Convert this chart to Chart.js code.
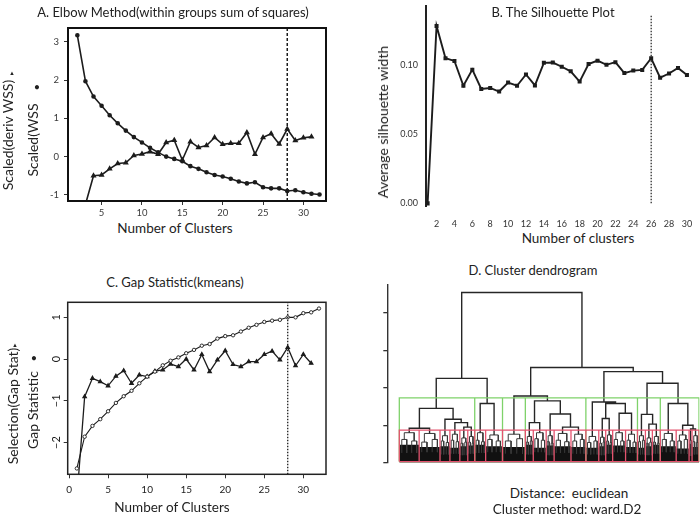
<!DOCTYPE html>
<html>
<head>
<meta charset="utf-8">
<title>Cluster number selection</title>
<script src="https://cdn.jsdelivr.net/npm/chart.js@4.4.1/dist/chart.umd.min.js"></script>
<style>
  html, body { margin: 0; padding: 0; background: #fff; }
  #fig { position: relative; width: 700px; height: 516px; overflow: hidden; font-family: Lato, 'Open Sans', sans-serif; color: #222; }
  #fig canvas { position: absolute; }
  .lab { position: absolute; white-space: nowrap; font-size: 13.5px; line-height: 1; transform: translate(-50%, -50%); }
  .ttl { font-size: 13px; }
  .vlab { position: absolute; white-space: nowrap; font-size: 14px; line-height: 14px; transform: translate(-50%, -50%) rotate(-90deg); }
  .mk { position: absolute; line-height: 1; transform: translate(-50%, -50%); }
</style>
</head>
<body>
<div id="fig">
  <canvas id="elbowChart" width="350" height="220" style="left:0;top:0"></canvas>
  <canvas id="silChart" width="350" height="230" style="left:350px;top:0"></canvas>
  <canvas id="gapChart" width="350" height="210" style="left:0;top:290px"></canvas>
  <canvas id="dendroChart" width="350" height="190" style="left:350px;top:280px"></canvas>

  <div class="lab ttl" style="left:173px;top:12px">A. Elbow Method(within groups sum of squares)</div>
  <div class="vlab" style="left:8px;top:135px">Scaled(deriv WSS)</div>
  <div class="mk" style="left:12px;top:73px;font-size:6px">&#9650;</div>
  <div class="vlab" style="left:33px;top:140px">Scaled(WSS</div>
  <div class="mk" style="left:37px;top:86px;font-size:11px">&#8226;</div>
  <div class="lab" style="left:175px;top:229px">Number of Clusters</div>

  <div class="lab ttl" style="left:553px;top:12px">B. The Silhouette Plot</div>
  <div class="vlab" style="left:383px;top:122px">Average silhouette width</div>
  <div class="lab" style="left:578px;top:239px">Number of clusters</div>

  <div class="lab ttl" style="left:175px;top:282px">C. Gap Statistic(kmeans)</div>
  <div class="vlab" style="left:13px;top:406px">Selection(Gap Stat)</div>
  <div class="mk" style="left:15px;top:345px;font-size:6px">&#9650;</div>
  <div class="vlab" style="left:33px;top:410px">Gap Statistic</div>
  <div class="mk" style="left:34px;top:357px;font-size:11px">&#8226;</div>
  <div class="lab" style="left:172px;top:508px">Number of Clusters</div>

  <div class="lab ttl" style="left:533px;top:270px">D. Cluster dendrogram</div>
  <div class="lab" style="left:569px;top:494px">Distance:&nbsp; euclidean</div>
  <div class="lab" style="left:567px;top:510px">Cluster method: ward.D2</div>
</div>

<script>
// ---- A. elbow method ----
const kElbow = [2, 3, 4, 5, 6, 7, 8, 9, 10, 11, 12, 13, 14, 15, 16, 17, 18, 19, 20, 21, 22, 23, 24, 25, 26, 27, 28, 29, 30, 31, 32];
const wssScaled = [3.17, 1.97, 1.57, 1.33, 1.08, 0.87, 0.68, 0.51, 0.37, 0.23, 0.11, 0.00, -0.06, -0.12, -0.25, -0.32,
  -0.41, -0.48, -0.52, -0.58, -0.65, -0.70, -0.67, -0.80, -0.83, -0.83, -0.90, -0.88, -0.93, -0.97, -0.99];
const kDeriv = [3, 4, 5, 6, 7, 8, 9, 10, 11, 12, 13, 14, 15, 16, 17, 18, 19, 20, 21, 22, 23, 24, 25, 26, 27, 28, 29, 30, 31];
const derivScaled = [-1.25, -0.50, -0.48, -0.32, -0.18, -0.16, 0.03, 0.07, 0.13, 0.06, 0.37, 0.43, -0.09, 0.39, 0.24,
  0.29, 0.50, 0.32, 0.35, 0.35, 0.63, 0.06, 0.50, 0.60, 0.33, 0.72, 0.42, 0.49, 0.52];
const elbowPick = 28;
const elbowTicksX = [5, 10, 15, 20, 25, 30];
const elbowTicksY = [-1, 0, 1, 2, 3];

// ---- B. silhouette ----
const kSil = [1, 2, 3, 4, 5, 6, 7, 8, 9, 10, 11, 12, 13, 14, 15, 16, 17, 18, 19, 20, 21, 22, 23, 24, 25, 26, 27, 28, 29, 30];
const silWidth = [0, 0.128, 0.1047, 0.1028, 0.0849, 0.0965, 0.0826, 0.0833, 0.0807, 0.0872, 0.0849, 0.0930, 0.0851, 0.1014,
  0.1016, 0.0986, 0.0953, 0.0879, 0.1005, 0.1030, 0.1000, 0.1019, 0.0940, 0.0958, 0.0963, 0.1047, 0.0907, 0.0937, 0.0977, 0.0926];
const silPick = 26;
const silTicksX = [2, 4, 6, 8, 10, 12, 14, 16, 18, 20, 22, 24, 26, 28, 30];
const silTicksY = [0, 0.05, 0.10];

// ---- C. gap statistic ----
const kGap = [1, 2, 3, 4, 5, 6, 7, 8, 9, 10, 11, 12, 13, 14, 15, 16, 17, 18, 19, 20, 21, 22, 23, 24, 25, 26, 27, 28, 29, 30, 31, 32];
const gapStat = [-2.62, -1.86, -1.60, -1.44, -1.25, -1.05, -0.89, -0.76, -0.58, -0.42, -0.30, -0.15, -0.04, 0.04, 0.14, 0.22,
  0.32, 0.36, 0.49, 0.55, 0.57, 0.66, 0.75, 0.82, 0.89, 0.92, 0.94, 1.00, 1.00, 1.10, 1.12, 1.21];
const kSel = [1, 2, 3, 4, 5, 6, 7, 8, 9, 10, 11, 12, 13, 14, 15, 16, 17, 18, 19, 20, 21, 22, 23, 24, 25, 26, 27, 28, 29, 30, 31];
const gapSel = [-3.35, -0.90, -0.46, -0.54, -0.64, -0.41, -0.28, -0.58, -0.38, -0.42, -0.29, -0.26, -0.12, -0.18, 0.00, -0.26,
  0.11, -0.30, -0.02, 0.20, -0.13, -0.18, -0.06, -0.06, 0.11, 0.19, -0.02, 0.28, -0.16, 0.11, -0.10];
const gapPick = 28;
const gapTicksX = [0, 5, 10, 15, 20, 25, 30];
const gapTicksY = [-2, -1, 0, 1];

// ---- D. dendrogram (ward.D2), cut into red clusters and green groups ----
const redSizes = [20, 21, 10, 10, 8, 7, 11, 17, 23, 8, 13, 8, 17, 15, 13, 7, 7, 13, 12, 8, 7, 8, 16, 13, 3, 7];
const greenCounts = [6, 2, 1, 5, 5, 3, 4];
// merges above the red cut, hclust style: negative = red cluster, positive = earlier merge row
const mergeA = [-1, -5, -4, -3, 1, -7, 5, -10, -13, -12, 8, -9, -16, -18, 13, -15, -21, -20, -25, -24, -23, 18, 16, 12, 7];
const mergeB = [-2, -6, 2, 3, 4, -8, 6, -11, -14, 9, 10, 11, -17, -19, 14, 15, -22, 17, -26, 19, 20, 21, 22, 23, 24];
const mergeH = [0.92, 0.95, 1.07, 1.16, 1.45, 1.58, 2.25, 1.07, 0.95, 1.30, 1.65, 1.78, 1.18, 1.32, 1.58, 1.62, 1.03, 1.29,
  0.90, 1.00, 1.58, 2.12, 2.43, 2.54, 4.54];
// inside each red cluster: top merge, its two sub merges, and top of the dense leaf mass
const redTop = [0.80, 0.78, 0.72, 0.76, 0.66, 0.70, 0.80, 0.74, 0.76, 0.70, 0.80, 0.72, 0.78, 0.76, 0.70, 0.68, 0.74, 0.80,
  0.76, 0.72, 0.66, 0.70, 0.78, 0.74, 0.60, 0.72];
const subL = [0.62, 0.55, 0.58, 0.60, 0.52, 0.55, 0.60, 0.62, 0.58, 0.55, 0.64, 0.56, 0.60, 0.58, 0.54, 0.52, 0.58, 0.62,
  0.60, 0.56, 0.52, 0.55, 0.62, 0.58, 0.50, 0.56];
const subR = [0.58, 0.62, 0.54, 0.56, 0.55, 0.52, 0.56, 0.58, 0.64, 0.58, 0.60, 0.52, 0.56, 0.62, 0.58, 0.55, 0.54, 0.58,
  0.55, 0.60, 0.55, 0.52, 0.58, 0.62, 0.48, 0.54];
const massTop = [0.46, 0.48, 0.42, 0.44, 0.40, 0.44, 0.46, 0.48, 0.44, 0.42, 0.48, 0.40, 0.46, 0.44, 0.42, 0.40, 0.44, 0.48,
  0.46, 0.42, 0.40, 0.44, 0.48, 0.44, 0.38, 0.42];
const redCut = 0.87;
const greenCut = 1.73;
const boxBase = 0.03;
const dendroTicksY = [0, 1, 2, 3, 4];

// ===== helpers =====
Chart.defaults.font.family = 'Lato, sans-serif';
Chart.defaults.color = '#333';

const INK = '#1c1c1c';

function xy(xs, ys) {
  return ys.map((y, i) => ({ x: xs[i], y: y }));
}

function fixTicks(values) {
  return function(scale) { scale.ticks = values.map(v => ({ value: v })); };
}

function fixSize(prop, size) {
  return function(scale) {
    scale[prop] = size;
    scale.paddingTop = 0; scale.paddingBottom = 0;
    scale.paddingLeft = 0; scale.paddingRight = 0;
  };
}

// box around the plot region, like R's bty="o"
const framePlugin = {
  id: 'frame',
  afterDatasetsDraw(chart, args, opts) {
    if (!opts.width) return;
    const a = chart.chartArea;
    const ctx = chart.ctx;
    ctx.save();
    ctx.strokeStyle = opts.color || INK;
    ctx.lineWidth = opts.width;
    ctx.strokeRect(a.left, a.top, a.right - a.left, a.bottom - a.top);
    ctx.restore();
  }
};

function baseOptions(padding) {
  return {
    responsive: false,
    animation: false,
    devicePixelRatio: 1,
    layout: { padding: padding },
    plugins: { legend: { display: false }, tooltip: { enabled: false } },
    elements: { line: { tension: 0 } }
  };
}

function series(points, extra) {
  return Object.assign({
    data: points,
    borderColor: INK,
    backgroundColor: INK,
    pointBackgroundColor: INK,
    pointBorderColor: INK,
    borderWidth: 1.5,
    pointRadius: 0,
    fill: false
  }, extra);
}

// ===== A. Elbow =====
(function() {
  const yMin = -1.16, yMax = 3.36;
  const opts = baseOptions({ left: 0, right: 24, top: 28, bottom: 0 });
  opts.plugins.frame = { width: 2, color: '#111' };
  opts.scales = {
    x: {
      type: 'linear', min: 0.84, max: 32.8,
      afterBuildTicks: fixTicks(elbowTicksX), afterFit: fixSize('height', 19),
      border: { display: false },
      grid: { drawOnChartArea: false, drawTicks: true, tickLength: 4, color: '#333' },
      ticks: { font: { size: 9.5 }, color: '#3a3a3a', padding: 2, maxRotation: 0, autoSkip: false }
    },
    y: {
      type: 'linear', min: yMin, max: yMax,
      afterBuildTicks: fixTicks(elbowTicksY), afterFit: fixSize('width', 68),
      border: { display: false },
      grid: { drawOnChartArea: false, drawTicks: true, tickLength: 4, color: '#333' },
      ticks: { font: { size: 9.5 }, color: '#3a3a3a', padding: 5, callback: v => String(v) }
    }
  };
  new Chart(document.getElementById('elbowChart'), {
    type: 'line',
    data: {
      datasets: [
        series([{ x: elbowPick, y: yMin }, { x: elbowPick, y: yMax }], { borderDash: [3, 2], borderWidth: 1.5, clip: 0 }),
        series(xy(kElbow, wssScaled), { pointRadius: 1.5, pointStyle: 'circle', borderWidth: 1.6, clip: 0 }),
        series(xy(kDeriv, derivScaled), { pointRadius: 1.9, pointStyle: 'triangle', borderWidth: 1.6, clip: 0 })
      ]
    },
    options: opts,
    plugins: [framePlugin]
  });
})();

// ===== B. Silhouette =====
(function() {
  const opts = baseOptions({ left: 0, right: 1, top: 0, bottom: 0 });
  opts.scales = {
    x: {
      type: 'linear', min: 0.82, max: 30.8,
      afterBuildTicks: fixTicks(silTicksX), afterFit: fixSize('height', 24),
      border: { display: false },
      grid: { display: false },
      ticks: { font: { size: 9 }, color: '#333', padding: 5, maxRotation: 0, autoSkip: false }
    },
    y: {
      type: 'linear', min: -0.0019, max: 0.1425,
      afterBuildTicks: fixTicks(silTicksY), afterFit: fixSize('width', 76),
      border: { display: true, color: '#222', width: 2 },
      grid: { drawOnChartArea: false, drawTicks: false },
      ticks: { font: { size: 9 }, color: '#333', padding: 8, callback: v => Number(v).toFixed(2) }
    }
  };
  new Chart(document.getElementById('silChart'), {
    type: 'line',
    data: {
      datasets: [
        series([{ x: silPick, y: 0 }, { x: silPick, y: 0.1355 }], { borderDash: [1.5, 1.5], borderWidth: 1.2 }),
        series(xy(kSil, silWidth), { pointRadius: 1.5, pointStyle: 'rect', borderWidth: 1.9 })
      ]
    },
    options: opts
  });
})();

// ===== C. Gap statistic =====
(function() {
  const yMin = -2.76, yMax = 1.36;
  const opts = baseOptions({ left: 0, right: 24, top: 12.3, bottom: 0 });
  opts.plugins.frame = { width: 1.5, color: '#222' };
  opts.scales = {
    x: {
      type: 'linear', min: -0.17, max: 32.9,
      afterBuildTicks: fixTicks(gapTicksX), afterFit: fixSize('height', 25.7),
      border: { display: false },
      grid: { drawOnChartArea: false, drawTicks: true, tickLength: 4, color: '#333' },
      ticks: { font: { size: 10 }, color: '#222', padding: 5, maxRotation: 0, autoSkip: false }
    },
    y: {
      type: 'linear', min: yMin, max: yMax,
      afterBuildTicks: fixTicks(gapTicksY), afterFit: fixSize('width', 67.7),
      border: { display: false },
      grid: { drawOnChartArea: false, drawTicks: true, tickLength: 4, color: '#333' },
      ticks: {
        font: { size: 11 }, color: '#222', padding: 1, minRotation: 90, maxRotation: 90, crossAlign: 'center',
        callback: v => (v < 0 ? '\u2212' + Math.abs(v) : String(v))
      }
    }
  };
  new Chart(document.getElementById('gapChart'), {
    type: 'line',
    data: {
      datasets: [
        series([{ x: gapPick, y: yMin }, { x: gapPick, y: yMax }], { borderDash: [1.5, 1.5], borderWidth: 1.3, clip: 0 }),
        series(xy(kGap, gapStat), {
          pointRadius: 1.7, pointStyle: 'circle', pointBackgroundColor: '#fff', pointBorderWidth: 0.9,
          borderWidth: 1.1, clip: 0
        }),
        series(xy(kSel, gapSel), { pointRadius: 1.9, pointStyle: 'triangle', borderWidth: 1.3, clip: 0 })
      ]
    },
    options: opts,
    plugins: [framePlugin]
  });
})();

// ===== D. Dendrogram =====
(function() {
  // leaf layout: red cluster j covers observations redStart[j] .. redStart[j] + size
  const redStart = [], redMid = [];
  let acc = 0.5;
  redSizes.forEach(n => { redStart.push(acc); redMid.push(acc + n / 2); acc += n; });
  const redEnd = acc;

  // tree above the red cut
  const nodeX = [];
  function place(ref) {
    return ref < 0 ? { x: redMid[-ref - 1], y: redTop[-ref - 1] } : { x: nodeX[ref - 1], y: mergeH[ref - 1] };
  }
  const treePts = [];
  mergeH.forEach((h, k) => {
    const a = place(mergeA[k]), b = place(mergeB[k]);
    nodeX.push((a.x + b.x) / 2);
    treePts.push({ x: a.x, y: a.y }, { x: a.x, y: h }, { x: b.x, y: h }, { x: b.x, y: b.y }, { x: b.x, y: null });
  });

  // branches inside each red cluster
  const bushPts = [];
  redSizes.forEach((n, j) => {
    const c = redMid[j], q = n / 4, e = n / 8;
    bushPts.push({ x: c - q, y: subL[j] }, { x: c - q, y: redTop[j] }, { x: c + q, y: redTop[j] }, { x: c + q, y: subR[j] },
      { x: c + q, y: null });
    [[c - q, subL[j]], [c + q, subR[j]]].forEach(([x, h]) => {
      bushPts.push({ x: x - e, y: massTop[j] - 0.2 }, { x: x - e, y: h }, { x: x + e, y: h }, { x: x + e, y: massTop[j] - 0.2 },
        { x: x + e, y: null });
    });
  });

  // dense leaf mass at the bottom
  const massPts = redSizes.map((n, j) => ({ x: redStart[j], y: massTop[j] }));
  massPts.push({ x: redEnd, y: massTop[massTop.length - 1] });

  // rectangles, like rect.hclust
  function boxes(bounds, top) {
    const pts = [];
    for (let i = 0; i < bounds.length - 1; i++) {
      const l = bounds[i], r = bounds[i + 1];
      pts.push({ x: l, y: boxBase }, { x: l, y: top }, { x: r, y: top }, { x: r, y: boxBase }, { x: l, y: boxBase },
        { x: l, y: null });
    }
    return pts;
  }
  const redBounds = redStart.concat([redEnd]);
  const greenBounds = [0.5];
  let gi = 0;
  greenCounts.forEach(c => { gi += c; greenBounds.push(redBounds[gi]); });

  const opts = baseOptions({ left: 0, right: 0.5, top: 5, bottom: 7.3 });
  opts.scales = {
    x: { type: 'linear', min: -11.6, max: 303.0, display: false },
    y: {
      type: 'linear', min: 0, max: 4.74,
      afterBuildTicks: fixTicks(dendroTicksY), afterFit: fixSize('width', 37.3),
      border: { display: true, color: '#333', width: 1.4 },
      grid: { drawOnChartArea: false, drawTicks: true, tickLength: 4, color: '#333', lineWidth: 1.3 },
      ticks: { display: false }
    }
  };
  new Chart(document.getElementById('dendroChart'), {
    type: 'line',
    data: {
      datasets: [
        series(boxes(redBounds, redCut), { borderColor: '#e4546f', borderWidth: 1.3 }),
        series(boxes(greenBounds, greenCut), { borderColor: '#7fd26a', borderWidth: 1.3 }),
        series(treePts, { borderColor: '#262626', borderWidth: 1.4 }),
        series(bushPts, { borderColor: '#3a3a3a', borderWidth: 1 }),
        series(massPts, { stepped: 'after', fill: 'origin', backgroundColor: '#111', borderWidth: 0 })
      ]
    },
    options: opts
  });
})();
</script>
</body>
</html>
